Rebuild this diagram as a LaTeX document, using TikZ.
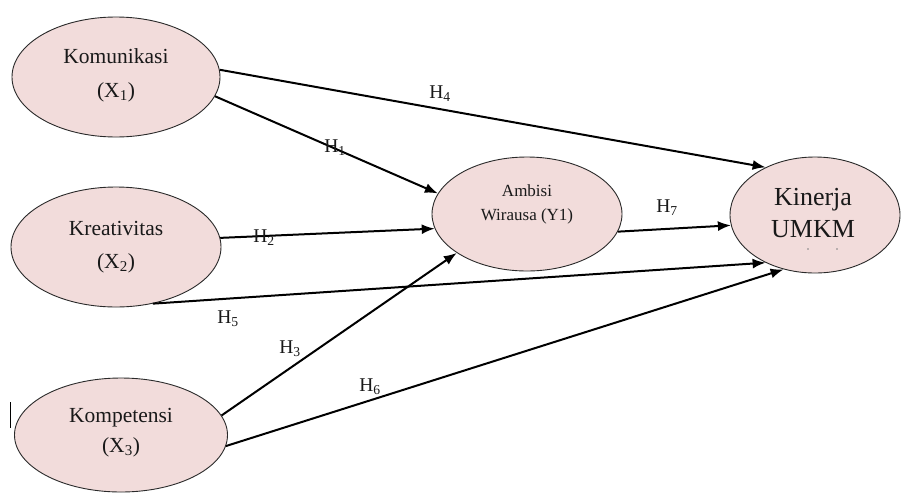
\documentclass[tikz,border=0pt]{standalone}
\usepackage{fontspec}
\setmainfont{Liberation Serif}
\usetikzlibrary{shapes.geometric,arrows.meta}
\definecolor{pinkfill}{HTML}{F2DCDB}
\definecolor{edge}{HTML}{2A2A2A}
\tikzset{
  var/.style={ellipse, draw=edge, line width=0.9pt, fill=pinkfill, inner sep=0pt},
  vtext/.style={align=center, inner sep=0pt, text=black!90},
  path/.style={line width=2pt, draw=black, -{Latex[length=13pt,width=10pt]}},
  hlab/.style={font=\fontsize{19.5}{22}\selectfont, inner sep=0pt, text=black!90}
}
\begin{document}
\begin{tikzpicture}[x=1pt,y=-1pt]
\useasboundingbox (0,0) rectangle (901,493);
\fill[white] (0,0) rectangle (901,493);
\node[var, minimum width=208pt, minimum height=120pt] (x1) at (116,77) {};
\node[var, minimum width=210pt, minimum height=120pt] (x2) at (116,247) {};
\node[var, minimum width=213pt, minimum height=114pt] (x3) at (121,435) {};
\node[var, minimum width=190pt, minimum height=114pt] (y1) at (527,214) {};
\node[var, minimum width=170pt, minimum height=116pt] (k) at (815,215) {};

\node[vtext, font=\fontsize{21.5}{34}\selectfont] (x1t) at (116,75) {Komunikasi\\(X\textsubscript{1})};
\node[vtext, font=\fontsize{21.5}{33}\selectfont] (x2t) at (116,247) {Kreativitas\\(X\textsubscript{2})};
\node[vtext, font=\fontsize{21.5}{30}\selectfont] (x3t) at (121,433) {Kompetensi\\(X\textsubscript{3})};
\node[vtext, font=\fontsize{17}{24}\selectfont] (y1t) at (527,204) {Ambisi\\Wirausa (Y1)};
\node[vtext, font=\fontsize{26}{32}\selectfont] (kt) at (813,213) {Kinerja\\UMKM};
\fill[gray] (808,249) circle (0.9pt) (837,249) circle (0.9pt);

\draw[path] (x1.4) -- (k.136);
\draw[path] (x1.-11) -- (y1.167);
\draw[path] (x2.5) -- (y1.189);
\draw[path] (y1.-11) -- (k.187);
\draw[path] (x2.-57) -- (k.224);
\draw[path] (x3.11) -- (y1.209);
\draw[path] (x3.-6) -- (k.240);

\node[hlab] (h4) at (440,94) {H\textsubscript{4}};
\node[hlab] (h1) at (335,148) {H\textsubscript{1}};
\node[hlab] (h2) at (264,238) {H\textsubscript{2}};
\node[hlab] (h7) at (667,208) {H\textsubscript{7}};
\node[hlab] (h5) at (228,319) {H\textsubscript{5}};
\node[hlab] (h3) at (290,349) {H\textsubscript{3}};
\node[hlab] (h6) at (370,387) {H\textsubscript{6}};

\coordinate (bar1) at (10,402);
\coordinate (bar2) at (10,428);
\draw[line width=1pt] (bar1) -- (bar2);
\end{tikzpicture}
\end{document}
